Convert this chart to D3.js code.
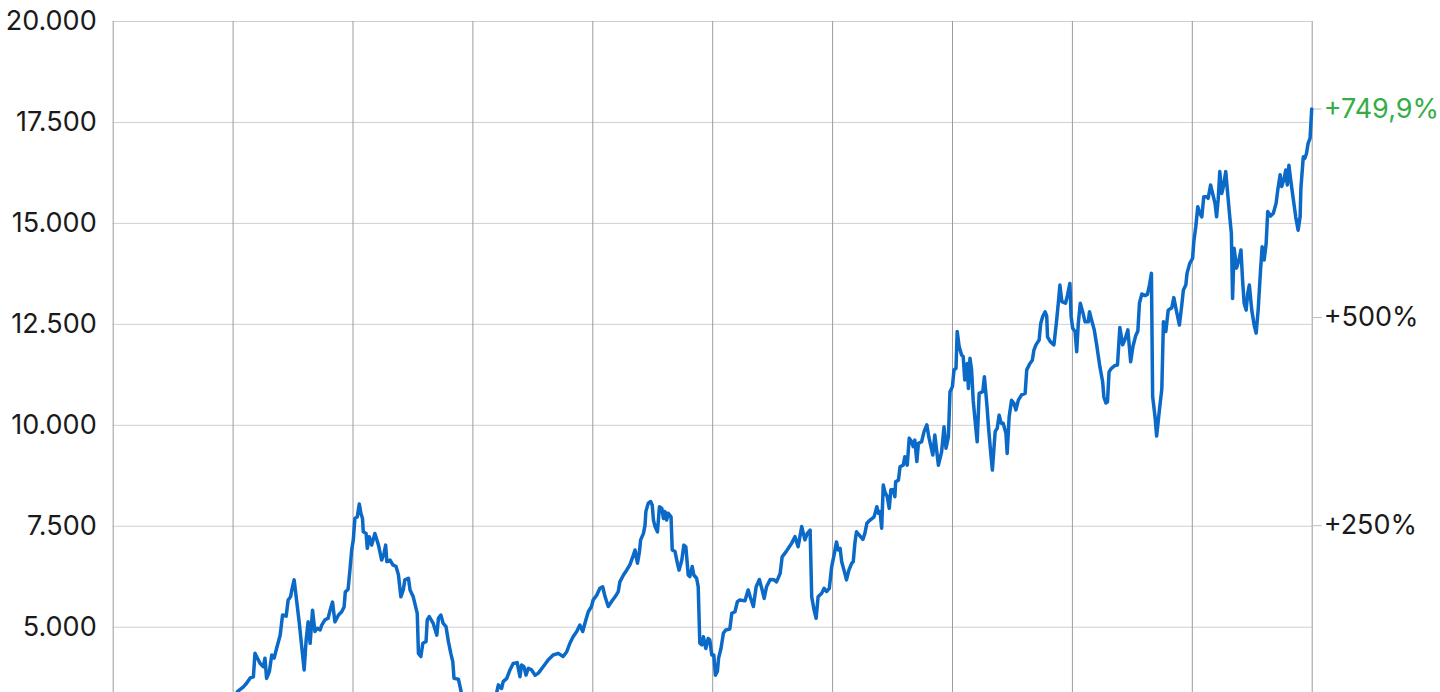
<!DOCTYPE html>
<html>
<head>
<meta charset="utf-8">
<script src="https://cdn.jsdelivr.net/npm/d3@7"></script>
<style>
html, body { margin: 0; padding: 0; overflow: hidden; background: #ffffff; }
svg { display: block; }
</style>
</head>
<body>
<script>
// ---------------- DATA ----------------
const years = [
1994.00,1994.08,1994.17,1994.25,1994.33,1994.42,1994.50,1994.58,1994.67,1994.75,1994.83,1994.92,
1995.00,1995.08,1995.17,1995.25,1995.33,1995.42,1995.50,1995.58,1995.67,1995.75,1995.83,1995.92,
1996.00,1996.08,1996.17,1996.25,1996.33,1996.42,1996.50,1996.58,1996.67,1996.75,1996.83,1996.92,
1997.00,1997.08,1997.12,1997.27,1997.35,1997.44,1997.52,1997.56,1997.69,1997.77,1997.81,1997.85,1997.92,1997.98,
1998.04,1998.10,1998.19,1998.25,1998.34,1998.39,1998.45,1998.49,1998.54,1998.60,1998.67,1998.73,1998.79,1998.84,1998.89,1998.94,
1999.00,1999.06,1999.12,1999.19,1999.23,1999.31,1999.39,1999.44,1999.50,1999.56,1999.65,1999.73,1999.79,1999.82,1999.89,1999.94,1999.98,
2000.02,2000.06,2000.12,2000.17,2000.21,2000.25,2000.27,2000.34,2000.37,2000.42,2000.48,2000.56,2000.65,2000.73,2000.79,2000.83,2000.86,2000.94,
2001.01,2001.09,2001.15,2001.21,2001.27,2001.31,2001.40,2001.44,2001.52,2001.62,2001.65,2001.71,2001.76,2001.84,2001.87,2001.92,
2002.02,2002.11,2002.15,2002.21,2002.27,2002.34,2002.40,2002.46,2002.51,2002.54,2002.65,2002.71,2002.78,2002.82,2002.87,2002.92,
2003.00,2003.08,2003.15,2003.20,2003.25,2003.33,2003.42,2003.50,2003.58,2003.61,2003.65,2003.73,2003.77,2003.86,2003.94,
2004.02,2004.12,2004.19,2004.23,2004.29,2004.34,2004.40,2004.48,2004.57,2004.65,2004.77,2004.90,
2005.02,2005.15,2005.27,2005.36,2005.44,2005.52,2005.61,2005.69,2005.76,2005.84,2005.90,2005.98,
2006.02,2006.11,2006.19,2006.26,2006.32,2006.40,2006.48,2006.57,2006.65,2006.69,2006.78,2006.86,2006.94,
2007.03,2007.07,2007.13,2007.18,2007.21,2007.28,2007.32,2007.34,2007.40,2007.46,2007.50,2007.53,2007.57,2007.63,2007.68,2007.74,2007.78,2007.82,2007.86,2007.90,2007.97,
2008.00,2008.07,2008.13,2008.17,2008.24,2008.29,2008.34,2008.40,2008.44,2008.50,2008.54,2008.61,2008.65,2008.69,2008.74,2008.78,2008.84,2008.90,2008.94,2008.99,
2009.04,2009.08,2009.13,2009.16,2009.22,2009.28,2009.34,2009.44,2009.49,2009.57,2009.63,2009.69,2009.82,2009.90,2009.95,
2010.03,2010.10,2010.18,2010.24,2010.30,2010.36,2010.45,2010.55,2010.61,2010.70,2010.75,2010.85,2010.93,2010.99,
2011.07,2011.15,2011.24,2011.32,2011.38,2011.45,2011.49,2011.55,2011.60,2011.65,2011.74,2011.80,2011.86,2011.93,2011.99,
2012.05,2012.11,2012.15,2012.20,2012.24,2012.32,2012.36,2012.42,2012.49,2012.53,2012.57,2012.61,2012.68,2012.77,2012.82,2012.87,2012.95,
2013.05,2013.12,2013.16,2013.20,2013.24,2013.28,2013.32,2013.38,2013.43,2013.47,2013.53,2013.57,2013.59,2013.66,2013.70,2013.78,2013.82,2013.88,2013.93,2013.99,
2014.03,2014.07,2014.12,2014.16,2014.24,2014.30,2014.37,2014.42,2014.52,2014.57,2014.66,2014.74,2014.80,2014.85,2014.91,2014.95,
2015.01,2015.05,2015.10,2015.13,2015.18,2015.24,2015.28,2015.32,2015.38,2015.41,2015.45,2015.49,2015.53,2015.60,2015.63,2015.68,2015.77,2015.81,2015.87,2015.92,2015.97,
2016.01,2016.08,2016.13,2016.18,2016.23,2016.28,2016.35,2016.38,2016.43,2016.49,2016.55,2016.60,2016.66,2016.74,2016.83,2016.87,2016.95,
2017.01,2017.05,2017.10,2017.18,2017.22,2017.27,2017.33,2017.37,2017.39,2017.46,2017.55,2017.61,2017.66,2017.70,2017.75,2017.84,2017.89,2017.95,2017.98,
2018.02,2018.08,2018.12,2018.16,2018.21,2018.28,2018.33,2018.41,2018.44,2018.49,2018.56,2018.62,2018.70,2018.77,2018.80,2018.85,2018.89,2018.93,2018.99,
2019.08,2019.14,2019.20,2019.27,2019.33,2019.40,2019.47,2019.53,2019.60,2019.65,2019.69,2019.75,2019.83,2019.89,2019.94,2019.99,
2020.02,2020.08,2020.12,2020.19,2020.25,2020.29,2020.35,2020.41,2020.50,2020.55,2020.62,2020.69,2020.75,2020.79,2020.85,2020.88,2020.95,
2021.02,2021.05,2021.10,2021.15,2021.20,2021.25,2021.30,2021.37,2021.41,2021.47,2021.52,2021.58,2021.62,2021.66,2021.70,2021.75,2021.79,2021.85,2021.89,2021.95,2021.99,
2022.02,2022.06,2022.12,2022.18,2022.23,2022.27,2022.31,2022.36,2022.40,2022.44,2022.50,2022.56,2022.61,2022.66,2022.72,2022.76,2022.81,2022.86,2022.90,2022.97,
2023.04,2023.11,2023.15,2023.21,2023.25,2023.31,2023.35,2023.39,2023.43,2023.47,2023.52,2023.56,2023.60,2023.66,2023.71,2023.73,2023.79,2023.83,2023.87,2023.91,2023.96,
2024.00
];

const values = [
2096.8,2180,2100,2140,2180,2030,2100,2120,2010,2040,2060,2110,
2040,2000,1900,2030,2130,2090,2210,2180,2200,2150,2190,2250,
2400,2450,2480,2500,2490,2560,2440,2520,2570,2650,2740,2890,
3080,3300,3390,3510,3600,3730,3760,4340,4090,4010,4220,3720,3890,4300,
4220,4460,4790,5290,5260,5660,5740,5950,6160,5660,5080,4500,3930,4670,5120,4590,
5410,4880,4960,4920,5040,5170,5210,5410,5610,5120,5290,5370,5490,5860,5930,6450,6900,
7150,7680,7720,8040,7810,7680,7350,7310,6940,7230,7020,7310,7020,6650,6820,7020,6610,6650,
6530,6490,6280,5740,5910,6160,6200,5910,5740,5330,4340,4260,4590,4630,5170,5250,
5080,4790,5210,5290,5080,5000,4630,4340,4130,3720,3700,3430,3000,2800,2700,3250,
2900,2750,2550,2300,2650,2900,3000,3200,3300,3380,3560,3470,3640,3720,3930,
4090,4110,3760,4050,4010,3800,3970,3930,3800,3850,4010,4180,
4300,4340,4260,4380,4590,4750,4880,5040,4880,5170,5370,5500,
5660,5780,5950,5990,5740,5500,5620,5740,5870,6110,6280,6400,6530,
6780,6900,6570,6860,7150,7310,7520,7850,8060,8100,8010,7640,7480,7350,7970,7930,7680,7850,7640,7810,7720,
6900,6860,6570,6400,6650,7020,6980,6280,6240,6490,6280,6200,5990,4590,4550,4750,4460,4710,4670,4300,
4300,3800,3890,4220,4460,4840,4920,4940,5330,5370,5620,5660,5640,5910,5740,
5500,5990,6170,5950,5700,5990,6170,6160,6110,6320,6730,6860,6980,7070,
7230,6980,7480,7150,7310,7390,5740,5410,5210,5740,5830,5950,5870,5950,6490,
6780,7100,6900,6940,6610,6320,6160,6400,6570,6610,7070,7350,7270,7160,7310,7560,7640,
7720,7970,7810,7850,7440,8510,8340,8220,7930,8390,8390,8220,8590,8630,8960,9000,9210,9000,9670,9580,
9460,9620,9090,9540,9580,9830,10000,9700,9250,9750,9000,9330,9950,9420,9700,10820,
10940,11360,11400,12310,11930,11730,11690,11110,11520,10900,11650,11360,10610,9870,9580,10780,10820,11190,10530,9870,9290,
8880,9830,9910,10240,10040,10040,9790,9290,10200,10610,10530,10370,10610,10740,10780,11360,11520,
11600,11850,11980,12100,12510,12680,12800,12690,12180,12060,11980,12510,13010,13460,13050,13010,13210,13500,12690,
12390,12310,11810,12510,13010,12760,12550,12550,12800,12600,12350,11980,11440,11060,10690,10540,10570,11310,11400,
11470,11480,12410,11980,12120,12350,11560,11950,12220,12320,13010,13240,13200,13230,13460,13750,
10700,10200,9720,10370,10890,12550,12310,12840,12900,13150,12800,12470,12970,13340,13460,13750,14000,
14120,14530,14910,15400,15240,15150,15650,15650,15610,15940,15730,15490,15150,15570,16270,15730,15900,16270,15810,15150,14740,
13130,14370,13880,14080,14330,13590,13010,12840,13260,13460,12840,12470,12270,12840,13830,14410,14080,14490,15280,15170,
15240,15490,15810,16190,15900,16100,16310,15940,16430,16100,15730,15440,15150,14820,15150,15860,16640,16600,16720,16970,17100,
17821
];

const yTickValues = [0, 2500, 5000, 7500, 10000, 12500, 15000, 17500, 20000];
const xTickYears = [1994, 1997, 2000, 2003, 2006, 2009, 2012, 2015, 2018, 2021, 2024];
const pctTickValues = [0, 250, 500];
const pctZeroLevel = 2360; // index level at which the right (percent) axis reads +0 %

// ---------------- LAYOUT ----------------
// The chart is taller than the window; its lower part lies below the visible edge.
const W = 1440, H = 692;
const plot = { left: 112.7, right: 1311.7, top: 21, bottom: 828.6 };
const visible = v => v >= 0 && v <= H - 14;

const de = d3.formatLocale({ decimal: ",", thousands: ".", grouping: [3], currency: ["", " €"] });
const fmtNum = de.format(",.0f");
const fmtPct = de.format("+.1f");
const fmtPctInt = de.format("+.0f");

const data = years.map((t, i) => ({ t, v: values[i] }));
const first = values[0], last = values[values.length - 1];
const lastPct = (last / first - 1) * 100;

const x = d3.scaleLinear().domain([xTickYears[0], xTickYears[xTickYears.length - 1]]).range([plot.left, plot.right]);
const y = d3.scaleLinear().domain([0, 20000]).range([plot.bottom, plot.top]);
const yPct = d3.scaleLinear().domain([0, lastPct]).range([y(pctZeroLevel), y(last)]);

const svg = d3.select("body").append("svg").attr("width", W).attr("height", H);

const FONT = "Inter, 'Noto Sans', sans-serif";

// horizontal grid
svg.append("g")
  .attr("transform", `translate(${plot.left},0)`)
  .call(d3.axisLeft(y).tickValues(yTickValues).tickSize(-(plot.right - plot.left)).tickFormat(""))
  .call(g => g.select(".domain").remove())
  .call(g => g.selectAll("line").attr("stroke", "#cfcfcf").attr("stroke-width", 1));

// vertical grid
svg.append("g")
  .attr("transform", `translate(0,${plot.bottom})`)
  .call(d3.axisBottom(x).tickValues(xTickYears).tickSize(-(plot.bottom - plot.top)).tickFormat(""))
  .call(g => g.select(".domain").remove())
  .call(g => g.selectAll("line").attr("stroke", "#9c9c9c").attr("stroke-width", 1));

// left labels (only those inside the window)
svg.append("g")
  .attr("transform", `translate(${plot.left},0)`)
  .call(d3.axisLeft(y).tickValues(yTickValues.filter(v => visible(y(v)))).tickSize(0).tickPadding(16).tickFormat(fmtNum))
  .call(g => g.select(".domain").remove())
  .call(g => g.selectAll("text")
    .attr("font-family", FONT).attr("font-size", 27).attr("fill", "#1a1a1a"));

// right percent axis
svg.append("g")
  .attr("transform", `translate(${plot.right},0)`)
  .call(d3.axisRight(yPct).tickValues(pctTickValues.filter(p => visible(yPct(p)))).tickSize(10).tickPadding(2)
    .tickFormat(d => fmtPctInt(d) + "%"))
  .call(g => g.select(".domain").remove())
  .call(g => g.selectAll("line").attr("stroke", "#bdbdbd"))
  .call(g => g.selectAll("text")
    .attr("font-family", FONT).attr("font-size", 27).attr("fill", "#1a1a1a"));

// last value marker on the right axis
const lastG = svg.append("g").attr("transform", `translate(${plot.right},${yPct(lastPct)})`);
lastG.append("line").attr("x1", 0).attr("x2", 10).attr("stroke", "#bdbdbd");
lastG.append("text")
  .attr("x", 12).attr("dy", "0.32em")
  .attr("font-family", FONT).attr("font-size", 27).attr("fill", "#35ad46")
  .text(fmtPct(lastPct) + "%");

// line
const line = d3.line().x(d => x(d.t)).y(d => y(d.v)).curve(d3.curveLinear);
svg.append("path")
  .datum(data)
  .attr("fill", "none")
  .attr("stroke", "#0b69c7")
  .attr("stroke-width", 3.5)
  .attr("stroke-linejoin", "round")
  .attr("stroke-linecap", "round")
  .attr("d", line);
</script>
</body>
</html>
